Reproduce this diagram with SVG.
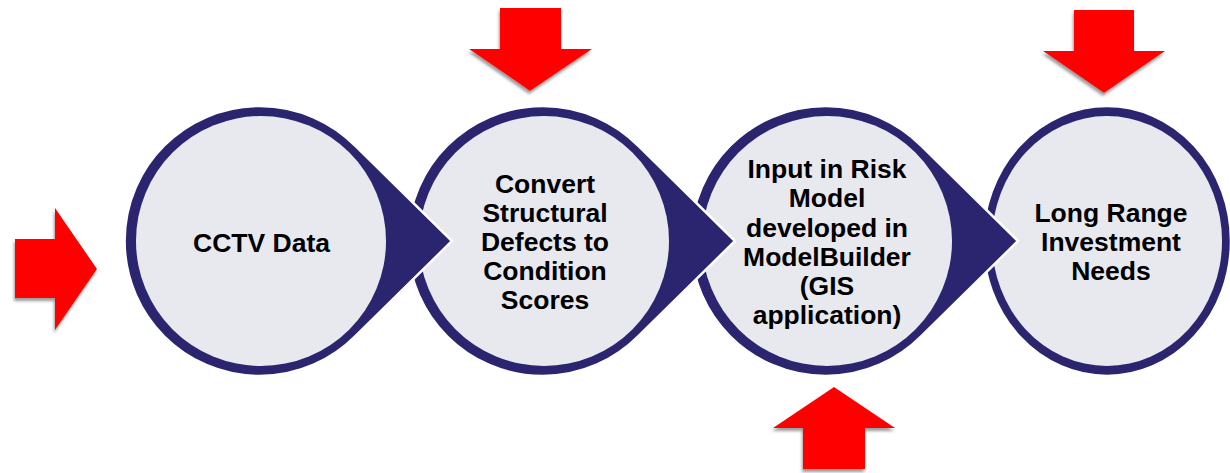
<svg xmlns="http://www.w3.org/2000/svg" width="1230" height="473" viewBox="0 0 1230 473">
<style>
.ring{fill:#2b2570;stroke:#ffffff;stroke-width:2.5;stroke-linejoin:miter}
.inner{fill:#e8e8ef}
.lbl{font-family:"Liberation Sans",Arial,sans-serif;font-weight:bold;font-size:26.5px;fill:#000;text-anchor:middle}
.arrow{fill:#ff0000;filter:url(#shadow)}
</style>
<defs>
<filter id="shadow" x="-20%" y="-20%" width="140%" height="140%">
<feGaussianBlur in="SourceAlpha" stdDeviation="1.6" result="b"/>
<feOffset in="b" dx="-1" dy="3" result="o"/>
<feFlood flood-color="#7a7a7a" flood-opacity="0.75"/>
<feComposite in2="o" operator="in" result="s"/>
<feMerge><feMergeNode in="s"/><feMergeNode in="SourceGraphic"/></feMerge>
</filter>
</defs>
<rect width="1230" height="473" fill="#ffffff"/>

<g id="node4">
<ellipse class="ring" cx="1107" cy="241" rx="124" ry="135"/>
<ellipse class="inner" cx="1107" cy="241" rx="115" ry="125"/>
<text class="lbl" x="1111" y="222">Long Range</text>
<text class="lbl" x="1111" y="251">Investment</text>
<text class="lbl" x="1111" y="280">Needs</text>
</g>

<g id="node3">
<path class="ring" d="M921.4,145.9 A135,135 0 1 0 921.4,336.1 L1018,241 Z"/>
<circle class="inner" cx="827" cy="241" r="125"/>
<text class="lbl" x="827" y="178">Input in Risk</text>
<text class="lbl" x="827" y="207">Model</text>
<text class="lbl" x="827" y="236.5">developed in</text>
<text class="lbl" x="827" y="265.5">ModelBuilder</text>
<text class="lbl" x="827" y="295">(GIS</text>
<text class="lbl" x="827" y="323.5">application)</text>
</g>

<g id="node2">
<path class="ring" d="M638.4,145.9 A135,135 0 1 0 638.4,336.1 L735,241 Z"/>
<circle class="inner" cx="544" cy="241" r="125"/>
<text class="lbl" x="545" y="193">Convert</text>
<text class="lbl" x="545" y="222">Structural</text>
<text class="lbl" x="545" y="250.5">Defects to</text>
<text class="lbl" x="545" y="280">Condition</text>
<text class="lbl" x="545" y="308.5">Scores</text>
</g>

<g id="node1">
<path class="ring" d="M355.4,145.9 A135,135 0 1 0 355.4,336.1 L452,241 Z"/>
<circle class="inner" cx="261" cy="241" r="125"/>
<text class="lbl" x="261.5" y="252">CCTV Data</text>
</g>

<g id="connectors">
<polygon id="arrow-left" class="arrow" points="15,239 55,239 55,208 97,269 55,330 55,298 15,298"/>
<polygon id="arrow-top2" class="arrow" points="500,8 561,8 561,49 592,49 530,91 469,49 500,49"/>
<polygon id="arrow-top4" class="arrow" points="1074,10 1134,10 1134,51 1165,51 1104,93 1043,51 1074,51"/>
<polygon id="arrow-bottom3" class="arrow" points="834,387 895,428 865,428 865,469 803,469 803,428 773,428"/>
</g>
</svg>
